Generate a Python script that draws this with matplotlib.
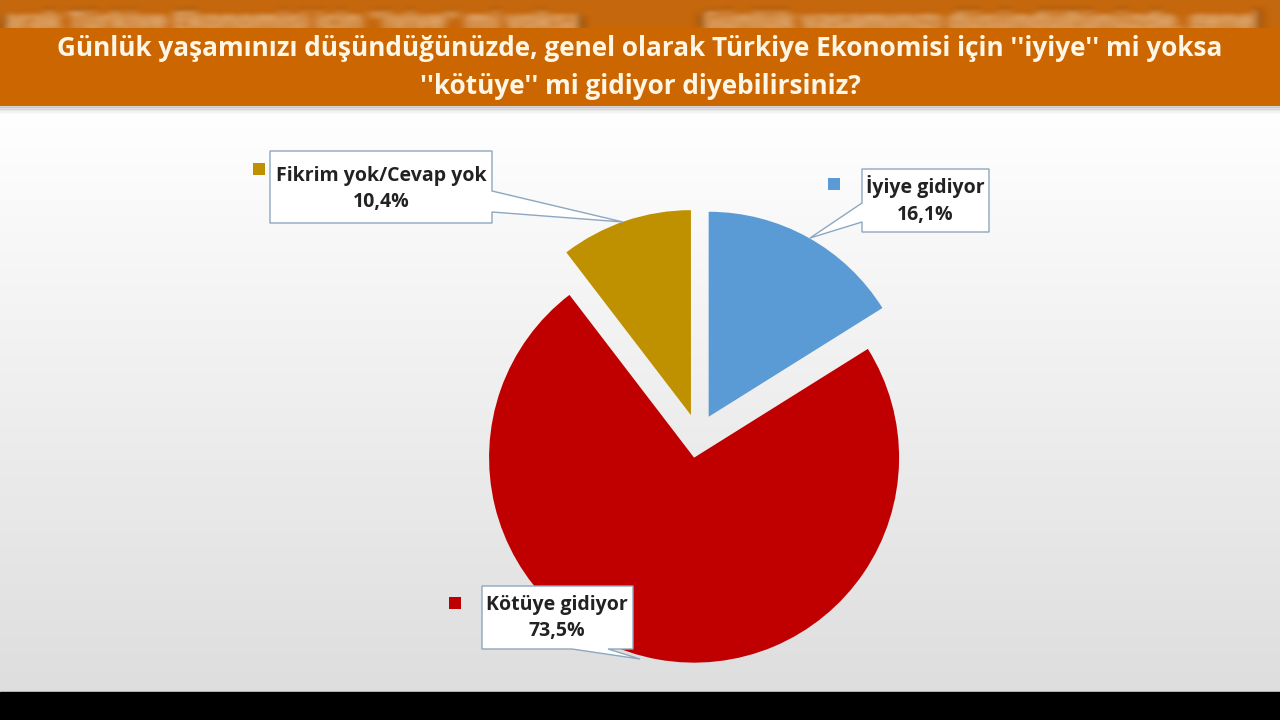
import numpy as np
import matplotlib.pyplot as plt
from matplotlib.patches import Rectangle, Polygon

# data
categories = ["İyiye gidiyor", "Kötüye gidiyor", "Fikrim yok/Cevap yok"]
values = [16.1, 73.5, 10.4]
value_labels = ["16,1%", "73,5%", "10,4%"]
colors = ["#5B9BD5", "#C00000", "#BF9000"]

title_lines = [
    "Günlük yaşamınızı düşündüğünüzde, genel olarak Türkiye Ekonomisi için ''iyiye'' mi yoksa",
    "''kötüye'' mi gidiyor diyebilirsiniz?",
]
# scrolling (blurred) copy of the title seen above the band
strip_texts = ["arak Türkiye Ekonomisi için ''iyiye'' mi yoksa",
               "Günlük yaşamınızı düşündüğünüzde, genel"]

W, H = 1280, 720
def py(y):
    return H - y


def blur(im, dpi, sx=5.0, sy=2.5):
    # simple separable gaussian blur used as agg_filter
    pad = 18
    h, w, _ = im.shape
    out = np.zeros((h + 2 * pad, w + 2 * pad, 4))
    out[pad:pad + h, pad:pad + w] = im
    for sig, axis in [(sx, 1), (sy, 0)]:
        r = int(3 * sig)
        k = np.exp(-0.5 * (np.arange(-r, r + 1) / sig) ** 2)
        k /= k.sum()
        out = np.apply_along_axis(lambda v: np.convolve(v, k, mode="same"), axis, out)
    return out, -pad, -pad


plt.rcParams["font.family"] = ["Open Sans", "DejaVu Sans"]
fig = plt.figure(figsize=(12.8, 7.2), dpi=100)
ax = fig.add_axes([0, 0, 1, 1])

# background gradient (white -> light grey)
grad = np.linspace(1.0, 0.0, 256).reshape(-1, 1)
top_c = np.array([1.0, 1.0, 1.0])
bot_c = np.array([0.87, 0.87, 0.87])
img = bot_c + (top_c - bot_c) * grad[..., None]
img = np.clip(img, 0, 1) * np.ones((256, 2, 3))
ax.imshow(img, extent=[0, W, py(692), py(110)], aspect="auto", zorder=0)

# bottom black bar
ax.add_patch(Rectangle((0, 0), W, 28, color="black", zorder=1))

# blurred top strip
ax.add_patch(Rectangle((0, py(28)), W, 28, color="#C5670C", lw=0, zorder=1))
for x0, txt in zip([2, 700], strip_texts):
    t = ax.text(x0, py(22), txt, fontsize=19, fontweight="bold",
                color="#E9C596", alpha=0.8, ha="left", va="center", zorder=2)
    t.set_agg_filter(blur)

# title band with shadow
for i, a in enumerate([0.10, 0.07, 0.05, 0.03, 0.015]):
    ax.add_patch(Rectangle((0, py(108 + i * 1.6)), W, 4, color="black", alpha=a,
                           lw=0, zorder=2))
ax.add_patch(Rectangle((0, py(106)), W, 78, color="#CC6600", lw=0, zorder=3))
ax.text(640, py(48), title_lines[0], fontsize=18.8, fontweight="bold",
        color="#FFF6E6", ha="center", va="center", zorder=4)
ax.text(640, py(87), title_lines[1], fontsize=18.8, fontweight="bold",
        color="#FFF6E6", ha="center", va="center", zorder=4)

# pie
ax.pie(values, colors=colors, startangle=90, counterclock=False,
       explode=[22, 22, 22], radius=205, center=(698, py(436)),
       wedgeprops=dict(linewidth=0), frame=True)

# callout boxes: (box x0, x1, y0, y1), pointer base pts, tip, legend square, text centre
callouts = [
    dict(box=(862, 989, 169, 232), side="left", base=(203, 222), tip=(810, 238),
         sq=(828, 178), tc=(925, 200)),
    dict(box=(482, 633, 586, 649), side="bottom", base=(572, 608), tip=(640, 659),
         sq=(449, 597), tc=(557, 618)),
    dict(box=(270, 492, 151, 223), side="right", base=(191, 212), tip=(623, 222),
         sq=(253, 163), tc=(381, 189)),
]

edge = "#8DA7C0"
for i, c in enumerate(callouts):
    x0, x1, y0, y1 = c["box"]
    b0, b1 = c["base"]
    tx, ty = c["tip"]
    if c["side"] == "left":
        pts = [(x0, y0), (x1, y0), (x1, y1), (x0, y1), (x0, b1), (tx, ty), (x0, b0)]
    elif c["side"] == "right":
        pts = [(x0, y0), (x1, y0), (x1, b0), (tx, ty), (x1, b1), (x1, y1), (x0, y1)]
    else:
        pts = [(x0, y0), (x1, y0), (x1, y1), (b1, y1), (tx, ty), (b0, y1), (x0, y1)]
    pts = [(x, py(y)) for x, y in pts]
    ax.add_patch(Polygon(pts, closed=True, facecolor="white", edgecolor=edge,
                         lw=1.0, zorder=5))
    sx, sy = c["sq"]
    ax.add_patch(Rectangle((sx, py(sy + 12)), 12, 12, color=colors[i], lw=0, zorder=5))
    ax.text(c["tc"][0], py(c["tc"][1]), categories[i] + "\n" + value_labels[i],
            fontsize=14, fontweight="bold", color="#222222", ha="center",
            va="center", linespacing=1.45, zorder=6)

ax.set_xlim(0, W)
ax.set_ylim(0, H)
ax.set_aspect("auto")
ax.axis("off")

fig.savefig("out.png", dpi=100)
